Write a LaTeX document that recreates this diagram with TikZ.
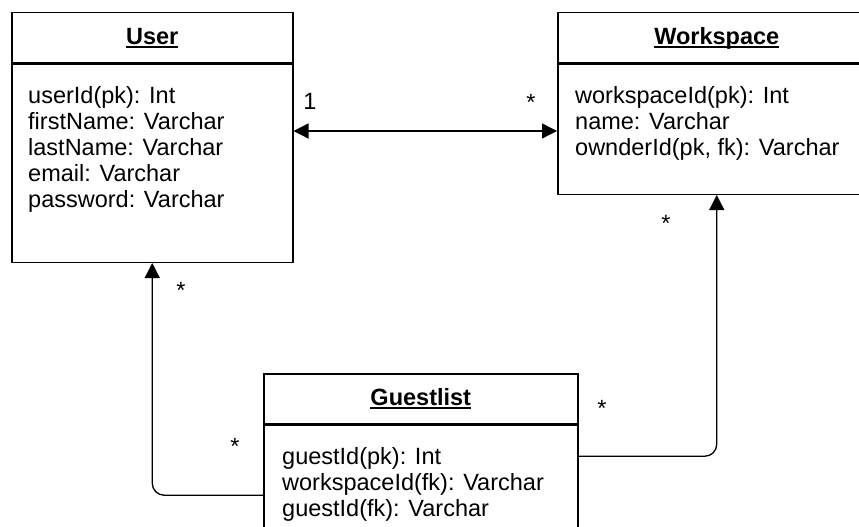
\documentclass[tikz,border=0pt]{standalone}
\usepackage{fontspec}
\setmainfont{Liberation Sans}
\usetikzlibrary{arrows.meta,positioning}

% Klassenname fett und unterstrichen
\newcommand{\clsname}[1]{\setbox0\hbox{\textbf{#1}}\rlap{\rule[-4pt]{\wd0}{1.8pt}}\box0}

\begin{document}
\begin{tikzpicture}[
        x=1pt, y=-1pt,
        >={Triangle[length=15pt, width=15pt]},
        font=\fontsize{23.5}{26}\selectfont,
        % Kopfzeile einer Klasse mit dem Namen
        classhead/.style={draw, line width=1.5pt, minimum height=50pt, inner sep=0pt,
            text height=17pt, text depth=4pt, anchor=north west},
        % Rumpf einer Klasse, direkt unter dem Kopf
        classbody/.style={draw, line width=1.5pt, inner sep=0pt},
        attrs/.style={align=left, inner sep=0pt},
        mult/.style={inner sep=0pt, anchor=base},
        assoc/.style={line width=1.3pt, ->, rounded corners=12pt}
    ]
    \fill[white] (0,0) rectangle (859,527);
    \useasboundingbox (0,0) rectangle (859,527);

    % User
    \node[classhead, minimum width=281pt] (userhead) at (11,12) {\clsname{User}};
    \node[classbody, minimum width=281pt, minimum height=198pt, below=0pt of userhead] (userbody) {};
    \node[attrs, below right=23pt and 17pt of userbody.north west] (userattrs)
        {userId(pk): Int\\ firstName: Varchar\\ lastName: Varchar\\ email: Varchar\\ password: Varchar};

    % Workspace
    \node[classhead, minimum width=318pt] (wshead) at (557,12) {\clsname{Workspace}};
    \node[classbody, minimum width=318pt, minimum height=130pt, below=0pt of wshead] (wsbody) {};
    \node[attrs, below right=23pt and 18pt of wsbody.north west] (wsattrs)
        {workspaceId(pk): Int\\ name: Varchar\\ ownderId(pk, fk): Varchar};

    % Guestlist
    \node[classhead, minimum width=314pt] (glhead) at (263,373) {\clsname{Guestlist}};
    \node[classbody, minimum width=314pt, minimum height=140pt, below=0pt of glhead] (glbody) {};
    \node[attrs, below right=23pt and 19pt of glbody.north west] (glattrs)
        {guestId(pk): Int\\ workspaceId(fk): Varchar\\ guestId(fk): Varchar};

    % Verbindungen
    \coordinate (midlink) at (424,131);
    \draw[line width=1.3pt, <->] (userbody.east |- midlink) -- (wsbody.west |- midlink);
    \draw[assoc] (glbody.west) -| (userbody.south);
    \draw[assoc] ([yshift=39pt]glbody.east) -| (wsbody.south);

    % Multiplizitaeten
    \node[inner sep=0pt] (m1) at (310,101) {1};
    \node[mult] (m2) at (531,110) {*};
    \node[mult] (m3) at (666,231) {*};
    \node[mult] (m4) at (181,298) {*};
    \node[mult] (m5) at (235,454) {*};
    \node[mult] (m6) at (602,416) {*};
\end{tikzpicture}
\end{document}
